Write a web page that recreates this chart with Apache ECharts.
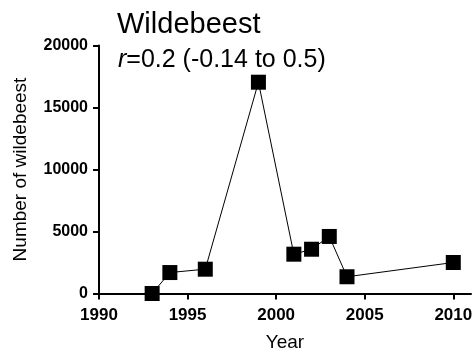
<!DOCTYPE html>
<html>
<head>
<meta charset="utf-8">
<script src="https://cdn.jsdelivr.net/npm/echarts@6/dist/echarts.min.js"></script>
<style>
  html, body { margin: 0; padding: 0; background: #fff; }
  #chart { width: 475px; height: 353px; }
</style>
</head>
<body>
<div id="chart"></div>
<script>
// Wildebeest counts by survey year
const years = [1993, 1994, 1996, 1999, 2001, 2002, 2003, 2004, 2010];
const counts = [0, 1690, 1960, 17040, 3170, 3570, 4600, 1350, 2500];
const yearTicks = [1990, 1995, 2000, 2005, 2010];
const countTicks = [0, 5000, 10000, 15000, 20000];

const FONT = '"Liberation Sans", Arial, Helvetica, sans-serif';
const plain = v => String(v);

const chart = echarts.init(document.getElementById('chart'), null, { renderer: 'canvas' });

chart.setOption({
  animation: false,
  backgroundColor: '#ffffff',
  title: [
    {
      text: 'Wildebeest',
      left: 112,
      top: 5,
      textStyle: { fontFamily: FONT, fontSize: 29, fontWeight: 'normal', color: '#000' }
    },
    {
      text: '{i|r}{n|=0.2 (-0.14 to 0.5)}',
      left: 113,
      top: 43,
      textStyle: {
        fontWeight: 'normal',
        rich: {
          i: { fontFamily: FONT, fontSize: 25, fontStyle: 'italic', fontWeight: 'normal', color: '#000' },
          n: { fontFamily: FONT, fontSize: 25, fontWeight: 'normal', color: '#000' }
        }
      }
    }
  ],
  grid: { left: 99, right: 4, top: 45.5, bottom: 59.5, containLabel: false, outerBoundsMode: 'none' },
  xAxis: {
    type: 'value',
    min: 1990,
    max: 2011,
    interval: 5,
    name: 'Year',
    nameLocation: 'middle',
    nameGap: 40,
    nameTextStyle: { fontFamily: FONT, fontSize: 19, color: '#000' },
    splitLine: { show: false },
    axisLine: { show: true, onZero: false, lineStyle: { color: '#000', width: 2 } },
    axisTick: { show: true, length: 6, lineStyle: { color: '#000', width: 2 }, customValues: yearTicks },
    axisLabel: {
      customValues: yearTicks,
      formatter: plain,
      margin: 13,
      fontFamily: FONT, fontSize: 17, fontWeight: 'bold', color: '#000'
    }
  },
  yAxis: {
    type: 'value',
    min: 0,
    max: 20000,
    interval: 5000,
    name: 'Number of wildebeest',
    nameLocation: 'middle',
    nameGap: 69,
    nameTextStyle: { fontFamily: FONT, fontSize: 19, color: '#000' },
    splitLine: { show: false },
    axisLine: { show: true, lineStyle: { color: '#000', width: 2 } },
    axisTick: { show: true, length: 6, lineStyle: { color: '#000', width: 2 }, customValues: countTicks },
    axisLabel: {
      customValues: countTicks,
      formatter: plain,
      margin: 11,
      fontFamily: FONT, fontSize: 16, fontWeight: 'bold', color: '#000'
    }
  },
  series: [
    {
      type: 'line',
      data: years.map((y, i) => [y, counts[i]]),
      symbol: 'rect',
      symbolSize: 15,
      clip: false,
      lineStyle: { color: '#000', width: 1 },
      itemStyle: { color: '#000' },
      z: 5
    }
  ]
});
</script>
</body>
</html>
